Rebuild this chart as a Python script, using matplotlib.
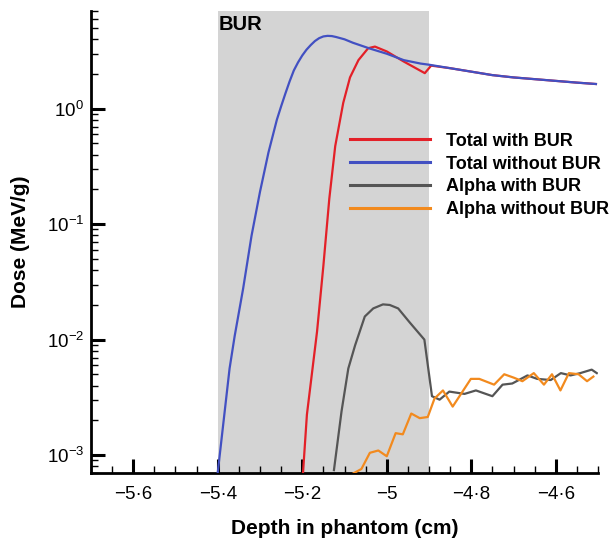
import numpy as np
import matplotlib
matplotlib.use("Agg")
import matplotlib.pyplot as plt
from matplotlib.ticker import FixedLocator, FuncFormatter, LogLocator, NullFormatter

plt.rcParams['font.family'] = ['Liberation Sans', 'DejaVu Sans']
plt.rcParams['mathtext.fontset'] = 'custom'
plt.rcParams['mathtext.rm'] = 'Liberation Sans'

# Total dose without BUR (depth in cm, log10 of dose in MeV/g)
depth_total_wo = [-5.40, -5.372, -5.36, -5.34, -5.32, -5.30, -5.28, -5.26, -5.25, -5.24,
                  -5.23, -5.22, -5.21, -5.20, -5.19, -5.18, -5.17, -5.16, -5.15, -5.14,
                  -5.13, -5.12, -5.11, -5.10, -5.08, -5.06, -5.04, -5.00, -4.96, -4.92,
                  -4.90, -4.85, -4.80, -4.75, -4.70, -4.65, -4.60, -4.55, -4.505]
logdose_total_wo = [-3.15, -2.25, -1.97, -1.56, -1.10, -0.72, -0.38, -0.095, 0.02, 0.13,
                    0.235, 0.33, 0.40, 0.46, 0.51, 0.55, 0.585, 0.61, 0.625, 0.63,
                    0.628, 0.62, 0.61, 0.60, 0.57, 0.545, 0.52, 0.475, 0.42, 0.39,
                    0.38, 0.35, 0.32, 0.29, 0.27, 0.255, 0.24, 0.225, 0.213]

# Total dose with BUR
depth_total_w = [-5.20, -5.189, -5.165, -5.15, -5.136, -5.122, -5.103, -5.087, -5.067, -5.044,
                 -5.028, -5.00, -4.96, -4.91, -4.895, -4.85, -4.80, -4.75, -4.70, -4.65,
                 -4.60, -4.55, -4.505]
logdose_total_w = [-3.25, -2.65, -1.93, -1.36, -0.78, -0.325, 0.05, 0.27, 0.42, 0.523,
                   0.537, 0.495, 0.408, 0.307, 0.372, 0.35, 0.32, 0.29, 0.27, 0.255,
                   0.24, 0.225, 0.213]

# Alpha dose with BUR
depth_alpha_w = [-5.125, -5.107, -5.091, -5.075, -5.052, -5.032, -5.009, -4.993, -4.973, -4.946,
                 -4.911, -4.893, -4.875, -4.852, -4.816, -4.789, -4.75, -4.726, -4.703, -4.667,
                 -4.644, -4.612, -4.588, -4.565, -4.542, -4.515, -4.503]
logdose_alpha_w = [-3.13, -2.62, -2.25, -2.05, -1.80, -1.73, -1.695, -1.70, -1.73, -1.85,
                   -2.00, -2.49, -2.52, -2.45, -2.47, -2.44, -2.49, -2.39, -2.38, -2.31,
                   -2.34, -2.35, -2.29, -2.31, -2.29, -2.26, -2.29]

# Alpha dose without BUR
depth_alpha_wo = [-5.08, -5.06, -5.04, -5.02, -5.00, -4.979, -4.962, -4.942, -4.922, -4.903,
                  -4.887, -4.867, -4.844, -4.801, -4.781, -4.746, -4.722, -4.699, -4.679, -4.652,
                  -4.628, -4.609, -4.589, -4.569, -4.546, -4.526, -4.511]
logdose_alpha_wo = [-3.16, -3.12, -2.98, -2.96, -3.01, -2.81, -2.82, -2.64, -2.68, -2.67,
                    -2.51, -2.44, -2.58, -2.34, -2.34, -2.39, -2.30, -2.33, -2.36, -2.29,
                    -2.39, -2.30, -2.44, -2.29, -2.30, -2.36, -2.32]

bur_region = (-5.4, -4.9)
x_ticks = [-5.6, -5.4, -5.2, -5.0, -4.8, -4.6]

fig = plt.figure(figsize=(6.09, 5.42), dpi=100)
ax = fig.add_axes([0.1494, 0.1273, 0.8326, 0.8524])

ax.axvspan(*bur_region, color='#d4d4d4', lw=0, zorder=0)
ax.text(bur_region[0] + 0.001, 5.3, 'BUR', fontsize=14.5, fontweight='bold',
        ha='left', va='center', zorder=5)

lw = 1.6
ax.plot(depth_total_w, 10 ** np.array(logdose_total_w), color='#e32028', lw=lw,
        label='Total with BUR', zorder=3)
ax.plot(depth_total_wo, 10 ** np.array(logdose_total_wo), color='#4250c2', lw=lw,
        label='Total without BUR', zorder=4)
ax.plot(depth_alpha_w, 10 ** np.array(logdose_alpha_w), color='#555555', lw=lw,
        label='Alpha with BUR', zorder=3)
ax.plot(depth_alpha_wo, 10 ** np.array(logdose_alpha_wo), color='#f28a1e', lw=lw,
        label='Alpha without BUR', zorder=3)

ax.set_yscale('log')
ax.set_xlim(-5.7, -4.5)
ax.set_ylim(7.0e-4, 7.0)

for side in ('top', 'right'):
    ax.spines[side].set_visible(False)
for side in ('left', 'bottom'):
    ax.spines[side].set_linewidth(2.0)

ax.xaxis.set_major_locator(FixedLocator(x_ticks))
ax.xaxis.set_minor_locator(FixedLocator(np.arange(-5.7, -4.49, 0.05)))


def fmt_depth(v, pos):
    s = f'{v:.1f}'.rstrip('0').rstrip('.')
    return s.replace('-', '\u2212').replace('.', '\u00b7')


ax.xaxis.set_major_formatter(FuncFormatter(fmt_depth))
ax.yaxis.set_major_locator(LogLocator(base=10, numticks=10))
ax.yaxis.set_minor_locator(LogLocator(base=10, subs=np.arange(2, 10), numticks=20))
ax.yaxis.set_minor_formatter(NullFormatter())

ax.tick_params(which='major', direction='in', length=10, width=2.2, labelsize=13.5)
ax.tick_params(axis='x', which='major', pad=9)
ax.tick_params(axis='y', which='major', pad=5)
ax.tick_params(which='minor', direction='in', length=5, width=1.0)

ax.set_xlabel('Depth in phantom (cm)', fontsize=15, fontweight='bold', labelpad=12)
ax.set_ylabel('Dose (MeV/g)', fontsize=15, fontweight='bold', labelpad=12)

leg = ax.legend(loc='upper left', bbox_to_anchor=(0.497, 0.752), frameon=False,
                fontsize=13, handlelength=4.4, handletextpad=0.9,
                labelspacing=0.32, borderaxespad=0)
for t in leg.get_texts():
    t.set_fontweight('bold')
for h in leg.get_lines():
    h.set_linewidth(2.2)

fig.savefig('out.png', dpi=100)
